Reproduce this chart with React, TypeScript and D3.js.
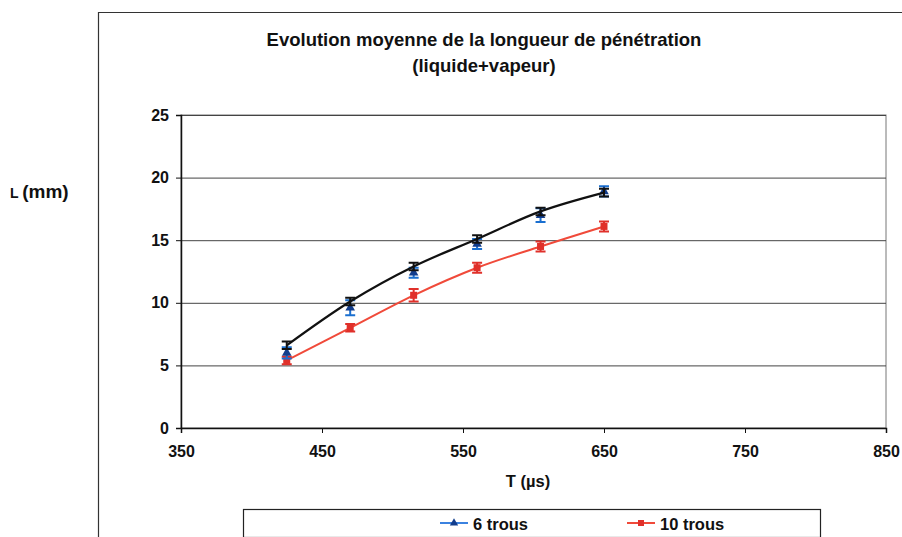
import { useRef, useEffect } from 'react';
import * as d3 from 'd3';

const temps = [425, 470, 515, 560, 605, 650];
const sixTrous = [6.0, 9.6, 12.4, 14.7, 17.0, 18.9];
const sixErr = [0.45, 0.6, 0.4, 0.4, 0.55, 0.4];
const sixFit = [6.6, 10.1, 12.9, 15.1, 17.3, 18.8];
const fitErr = [0.3, 0.3, 0.3, 0.3, 0.3, 0.3];
const tenTrous = [5.4, 8.0, 10.6, 12.8, 14.5, 16.1];
const tenErr = [0.3, 0.3, 0.5, 0.4, 0.4, 0.4];
const xTicks = [350, 450, 550, 650, 750, 850];
const yTicks = [0, 5, 10, 15, 20, 25];
const titleLines = ['Evolution moyenne de la longueur de pénétration', '(liquide+vapeur)'];

const FONT = '"Liberation Sans", Arial, sans-serif';

export default function App() {
  const svgRef = useRef<SVGSVGElement>(null);
  const width = 902;
  const height = 537;

  useEffect(() => {
    if (!svgRef.current) return;
    const svg = d3.select(svgRef.current);
    svg.selectAll('*').remove();

    const x = d3.scaleLinear().domain([350, 850]).range([181, 886]);
    const y = d3.scaleLinear().domain([0, 25]).range([428, 115]);

    svg.append('rect').attr('width', width).attr('height', height).attr('fill', '#fff');

    // outer chart frame
    svg.append('path')
      .attr('d', `M98.5,${height} V12.5 H${width}`)
      .attr('fill', 'none')
      .attr('stroke', '#333')
      .attr('stroke-width', 1.2);

    // title
    svg.selectAll('.title')
      .data(titleLines)
      .enter()
      .append('text')
      .attr('x', 484)
      .attr('y', (_, i) => 46 + i * 25.5)
      .attr('text-anchor', 'middle')
      .attr('font-family', FONT)
      .attr('font-weight', 'bold')
      .attr('font-size', '18.5px')
      .attr('fill', '#111')
      .text(d => d);

    // plot area border
    svg.append('rect')
      .attr('x', x(350)).attr('y', y(25))
      .attr('width', x(850) - x(350)).attr('height', y(0) - y(25))
      .attr('fill', 'none')
      .attr('stroke', '#777')
      .attr('stroke-width', 1);

    // gridlines
    const g = svg.append('g');
    g.append('g')
      .attr('transform', `translate(${x(350)},0)`)
      .call(d3.axisLeft(y).tickValues(yTicks).tickSize(-(x(850) - x(350))).tickFormat(() => ''))
      .call(s => s.select('.domain').remove())
      .call(s => s.selectAll('.tick line').attr('stroke', '#444').attr('stroke-width', 1));

    // y axis
    g.append('g')
      .attr('transform', `translate(${x(350)},0)`)
      .call(d3.axisLeft(y).tickValues(yTicks).tickSize(5).tickPadding(7))
      .call(s => s.select('.domain').attr('stroke', '#111').attr('stroke-width', 1.5))
      .call(s => s.selectAll('.tick line').attr('stroke', '#111'))
      .call(s => s.selectAll('.tick text')
        .attr('font-family', FONT).attr('font-weight', 'bold')
        .attr('font-size', '16px').attr('fill', '#111'));

    // x axis
    g.append('g')
      .attr('transform', `translate(0,${y(0)})`)
      .call(d3.axisBottom(x).tickValues(xTicks).tickSize(5).tickPadding(13))
      .call(s => s.select('.domain').attr('stroke', '#111').attr('stroke-width', 1.5))
      .call(s => s.selectAll('.tick line').attr('stroke', '#111'))
      .call(s => s.selectAll('.tick text')
        .attr('font-family', FONT).attr('font-weight', 'bold')
        .attr('font-size', '16px').attr('fill', '#111'));

    // axis titles
    svg.append('text')
      .attr('x', 528).attr('y', 487)
      .attr('text-anchor', 'middle')
      .attr('font-family', FONT).attr('font-weight', 'bold')
      .attr('font-size', '16.5px').attr('fill', '#111')
      .text('T (µs)');

    const yl = svg.append('text')
      .attr('x', 10).attr('y', 198)
      .attr('font-family', FONT).attr('font-weight', 'bold')
      .attr('fill', '#111');
    yl.append('tspan').attr('font-size', '14px').text('L ');
    yl.append('tspan').attr('font-size', '19px').text('(mm)');

    const curve = d3.line<number>()
      .x((_, i) => x(temps[i]))
      .y(d => y(d))
      .curve(d3.curveCatmullRom);

    // red series line
    svg.append('path')
      .datum(tenTrous)
      .attr('fill', 'none')
      .attr('stroke', '#f04a3a')
      .attr('stroke-width', 2)
      .attr('d', curve);

    const errorBars = (vals: number[], errs: number[], color: string, cls: string) => {
      const eb = svg.append('g').attr('class', cls);
      vals.forEach((v, i) => {
        const cx = x(temps[i]);
        const y1 = y(v + errs[i]);
        const y2 = y(v - errs[i]);
        eb.append('path')
          .attr('d', `M${cx},${y1}V${y2}M${cx - 5},${y1}H${cx + 5}M${cx - 5},${y2}H${cx + 5}`)
          .attr('fill', 'none')
          .attr('stroke', color)
          .attr('stroke-width', 2);
      });
    };

    errorBars(tenTrous, tenErr, '#e0302a', 'err-ten');
    svg.selectAll('.ten-pt')
      .data(tenTrous)
      .enter()
      .append('rect')
      .attr('x', (_, i) => x(temps[i]) - 3.5)
      .attr('y', d => y(d) - 3.5)
      .attr('width', 7).attr('height', 7)
      .attr('fill', '#e0302a');

    // blue series markers
    errorBars(sixTrous, sixErr, '#1a6fd0', 'err-six');
    const tri = d3.symbol().type(d3.symbolTriangle).size(40);
    svg.selectAll('.six-pt')
      .data(sixTrous)
      .enter()
      .append('path')
      .attr('transform', (d, i) => `translate(${x(temps[i])},${y(d)})`)
      .attr('d', tri)
      .attr('fill', '#123d8c');

    // black fitted curve
    svg.append('path')
      .datum(sixFit)
      .attr('fill', 'none')
      .attr('stroke', '#111')
      .attr('stroke-width', 2.2)
      .attr('d', curve);
    errorBars(sixFit, fitErr, '#111', 'err-fit');

    // legend
    const lg = svg.append('g');
    lg.append('rect')
      .attr('x', 243.5).attr('y', 509.5)
      .attr('width', 577).attr('height', 28)
      .attr('fill', '#fff')
      .attr('stroke', '#222')
      .attr('stroke-width', 1.2);

    const legendItems = [
      { label: '6 trous', color: '#3b82e0', marker: '#123d8c', x0: 440, shape: 'tri' },
      { label: '10 trous', color: '#f04a3a', marker: '#e0302a', x0: 627, shape: 'sq' },
    ];
    legendItems.forEach(it => {
      lg.append('line')
        .attr('x1', it.x0).attr('x2', it.x0 + 28)
        .attr('y1', 523).attr('y2', 523)
        .attr('stroke', it.color).attr('stroke-width', 2);
      if (it.shape === 'tri') {
        lg.append('path')
          .attr('transform', `translate(${it.x0 + 14},523)`)
          .attr('d', d3.symbol().type(d3.symbolTriangle).size(30))
          .attr('fill', it.marker);
      } else {
        lg.append('rect')
          .attr('x', it.x0 + 11).attr('y', 520)
          .attr('width', 6).attr('height', 6)
          .attr('fill', it.marker);
      }
      lg.append('text')
        .attr('x', it.x0 + 33).attr('y', 529.5)
        .attr('font-family', FONT).attr('font-weight', 'bold')
        .attr('font-size', '16.5px').attr('fill', '#111')
        .text(it.label);
    });
  }, []);

  return (
    <svg
      ref={svgRef}
      width={width}
      height={height}
      style={{ position: 'absolute', left: 0, top: 0, display: 'block' }}
    />
  );
}
